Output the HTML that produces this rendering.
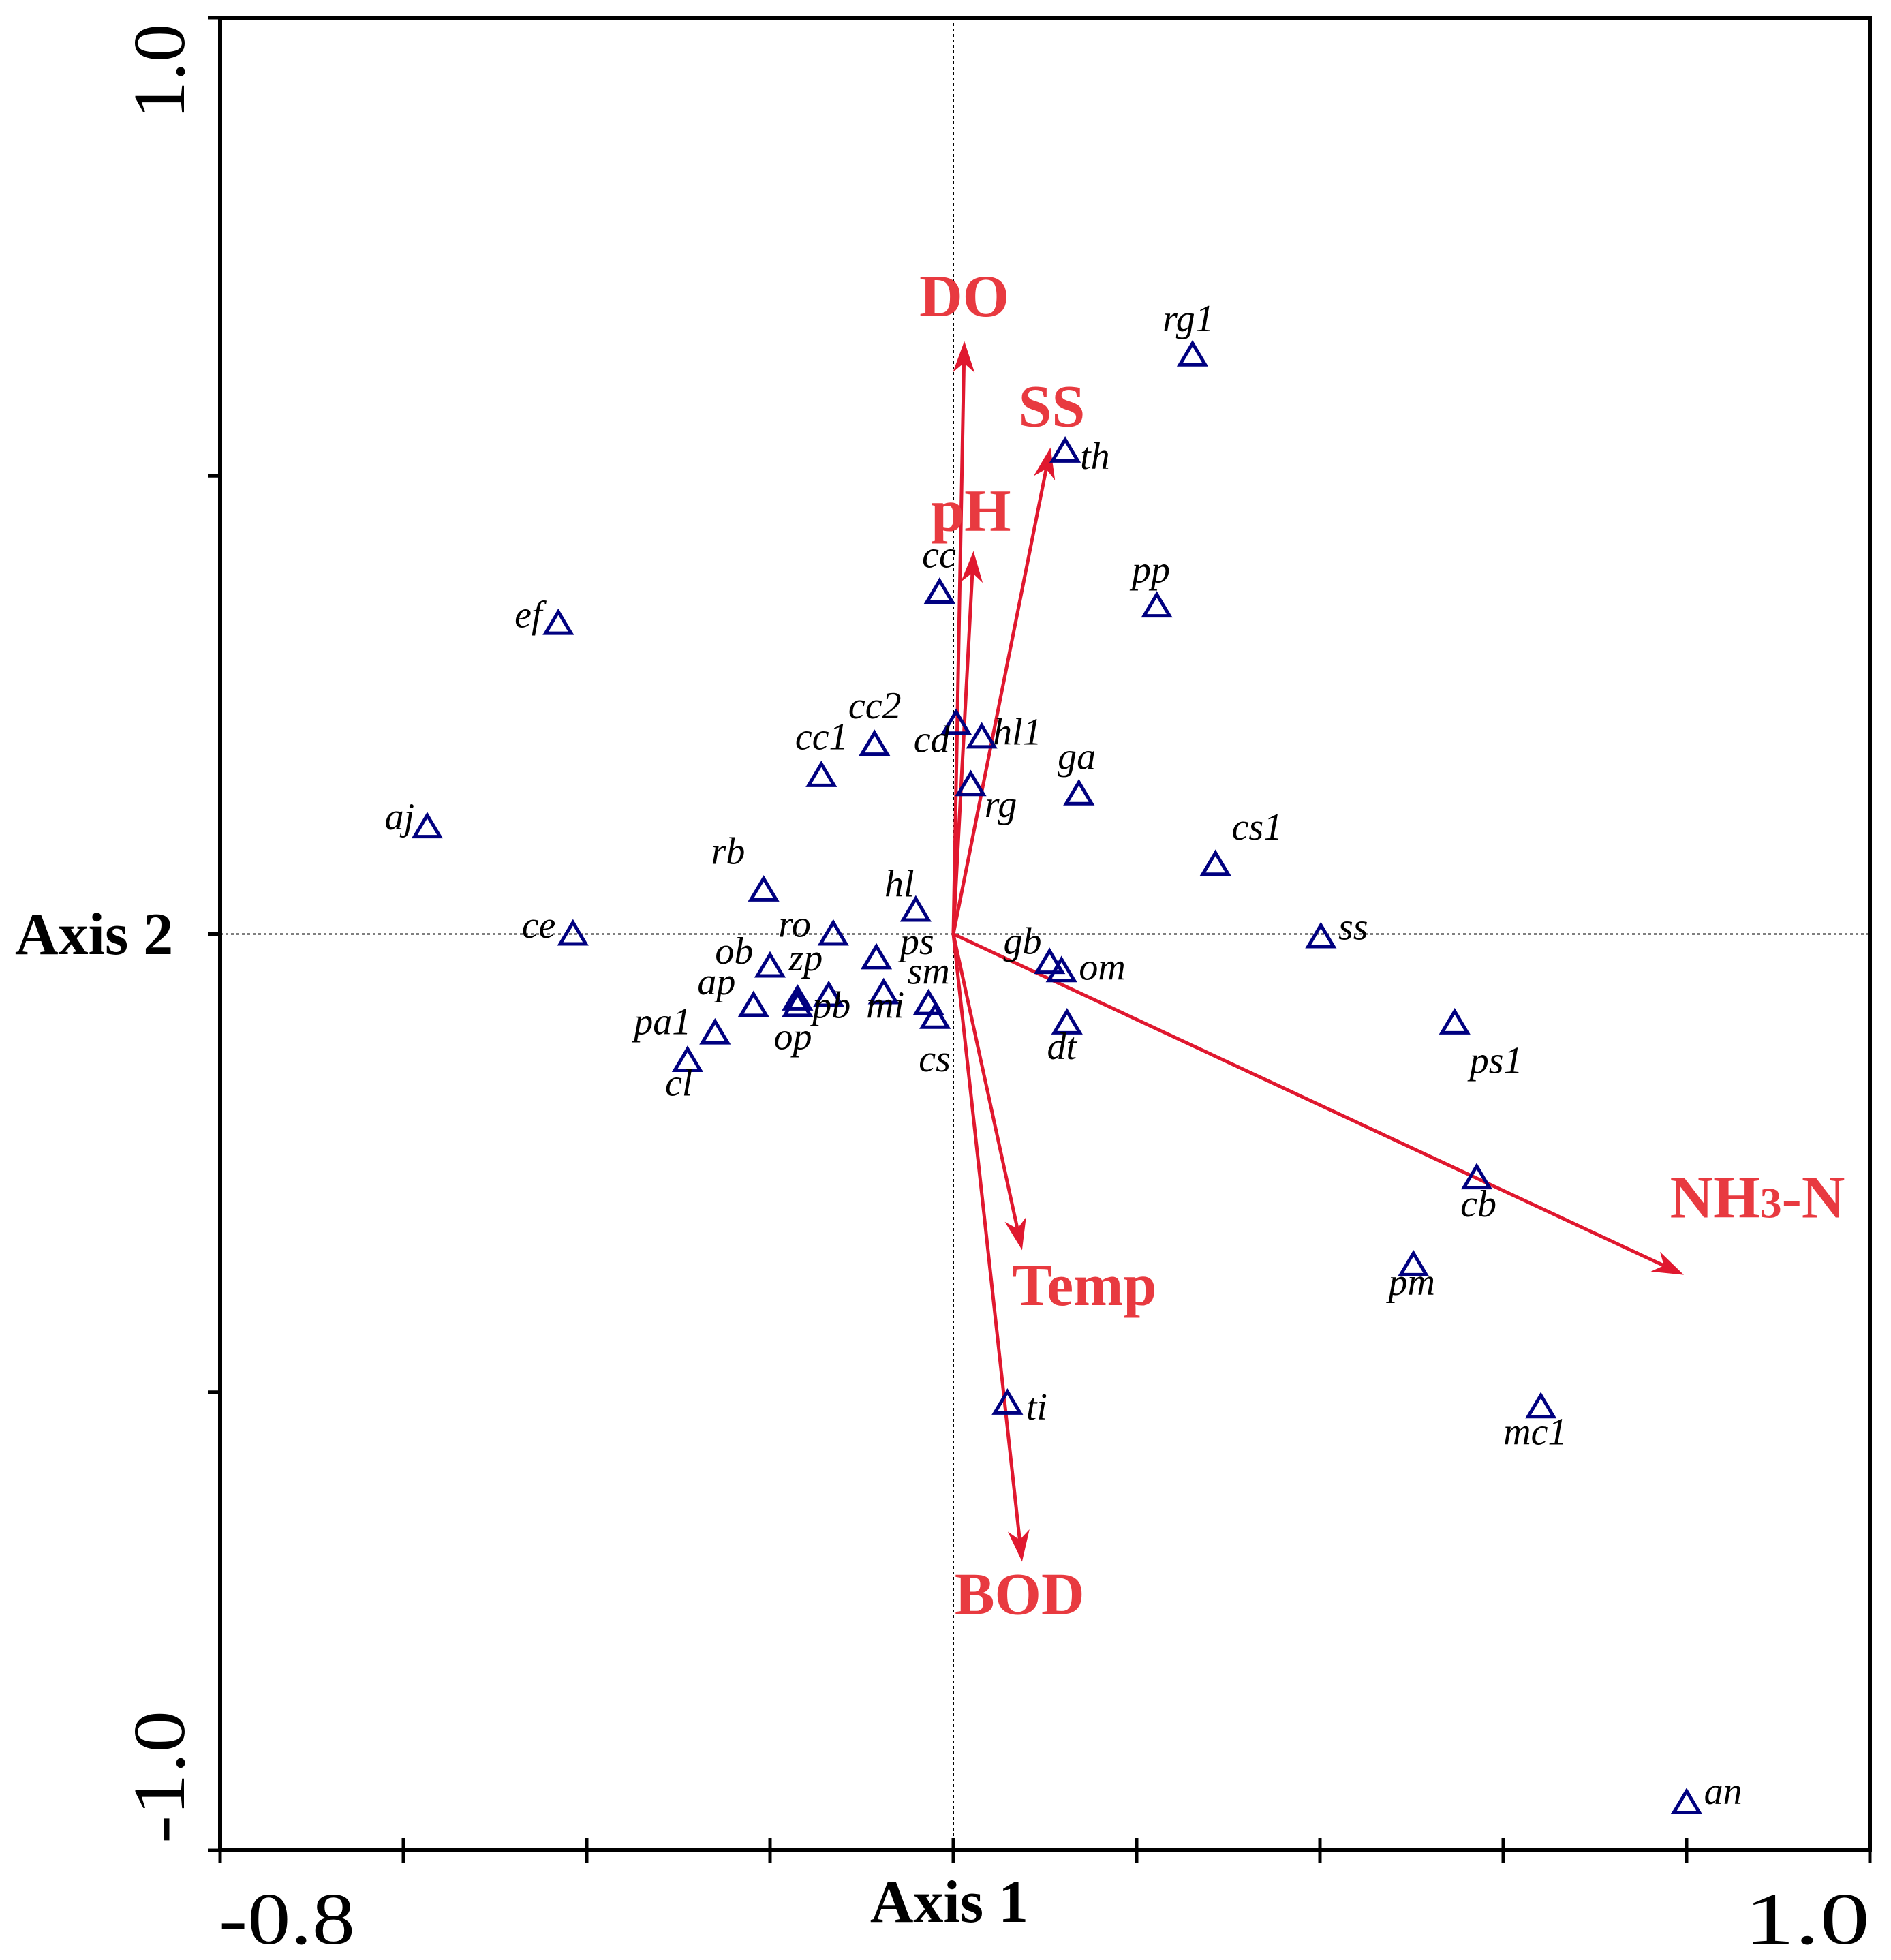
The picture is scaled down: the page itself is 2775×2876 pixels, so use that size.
<!DOCTYPE html>
<html><head><meta charset="utf-8"><style>
html,body{margin:0;padding:0;background:#fff}
svg{display:block}
</style></head><body>
<svg id="chart" xmlns="http://www.w3.org/2000/svg" width="2775" height="2876" viewBox="0 0 2775 2876">
<g id="frame"></g><g id="arrows"></g><g id="points"></g>
</svg>
<script>
const speciesNames=["rg1","th","pp","cc","ef","cc2","cc1","cd","hl1","rg","ga","aj","cs1","rb","hl","ce","ro","ss","ps","gb","om","ob","zp","pb","ap","op","mi","sm","cs","dt","ps1","pa1","cl","cb","pm","ti","mc1","an"];
const speciesX=[0.261,0.122,0.222,-0.015,-0.431,-0.086,-0.144,0.003,0.031,0.019,0.137,-0.574,0.286,-0.207,-0.041,-0.415,-0.131,0.401,-0.084,0.105,0.118,-0.200,-0.170,-0.136,-0.218,-0.170,-0.076,-0.027,-0.020,0.124,0.547,-0.260,-0.290,0.571,0.502,0.059,0.641,0.800];
const speciesY=[0.632,0.527,0.358,0.373,0.339,0.207,0.173,0.230,0.215,0.163,0.153,0.117,0.076,0.048,0.026,0,0,-0.003,-0.026,-0.031,-0.040,-0.035,-0.071,-0.067,-0.078,-0.078,-0.064,-0.076,-0.091,-0.097,-0.097,-0.108,-0.138,-0.266,-0.361,-0.512,-0.516,-0.948];
const envNames=["DO","SS","pH","Temp","BOD","NH3-N"];
const envX=[0.012,0.106,0.022,0.075,0.075,0.797];
const envY=[0.647,0.531,0.418,-0.345,-0.685,-0.372];
const xTicks=[-0.8,-0.6,-0.4,-0.2,0,0.2,0.4,0.6,0.8,1.0];
const yTicks=[-1.0,-0.5,0,0.5,1.0];
// label offsets (layout, display px)
const labOff=[[-24,-20],[12,13],[-20,-20],[-14,-21],[-35,2],[-21,-22],[-21,-22],[-34,22],[9,5],[11,25],[-17,-21],[-34,1],[13,-21],[-42,-22],[-25,-12],[-41,2],[-44,1],[14,1],[19,-4],[-37,-8],[14,6],[-44,-3],[-7,-24],[-13,17],[-45,-10],[-19,34],[-14,19],[-17,-17],[-13,42],[-16,28],[12,39],[-65,0],[-18,27],[-13,30],[-20,23],[15,12],[-30,29],[14,0]];
const envLab=[[0,-20],[1,-17],[-2,-16],[50,44],[-2,42],[59,-46]];
const S=1.832;
const L=323,R=2744,T=26,B=2715;
const sx=v=>L+(v+0.8)/1.8*(R-L);
const sy=v=>T+(1.0-v)/2.0*(B-T);
const NS="http://www.w3.org/2000/svg";
function mk(tag,attrs,parent,text){const e=document.createElementNS(NS,tag);for(const k in attrs)e.setAttribute(k,attrs[k]);if(text!==undefined)e.textContent=text;parent.appendChild(e);return e;}
const fr=document.getElementById('frame'),ar=document.getElementById('arrows'),pt=document.getElementById('points');
let z1=mk('line',{x1:sx(0),y1:T,x2:sx(0),y2:B,stroke:'#000','stroke-width':2,'stroke-dasharray':'4 4'},fr);


let z2=mk('line',{x1:L,y1:sy(0),x2:R,y2:sy(0),stroke:'#000','stroke-width':2,'stroke-dasharray':'4 4'},fr);


let box=mk('rect',{x:L,y:T,width:R-L,height:B-T,fill:'none',stroke:'#000','stroke-width':6},fr);


xTicks.forEach(t=>{let l=mk('line',{x1:sx(t),y1:B-18,x2:sx(t),y2:B+18,stroke:'#000','stroke-width':5},fr);

});
yTicks.forEach(t=>{let l=mk('line',{x1:L-18,y1:sy(t),x2:L+2,y2:sy(t),stroke:'#000','stroke-width':5},fr);

});
const serif='"Liberation Serif", serif';
let t1=mk('text',{x:sx(-0.8)-2,y:2852,'font-family':serif,'font-size':108,textLength:200,lengthAdjust:'spacingAndGlyphs'},fr,'-0.8');


let t2=mk('text',{x:R-184,y:2852,'font-family':serif,'font-size':108,textLength:184,lengthAdjust:'spacingAndGlyphs'},fr,'1.0');


let t3=mk('text',{x:0,y:0,'font-family':serif,'font-size':108,textLength:140,lengthAdjust:'spacingAndGlyphs',transform:'translate(270,175) rotate(-90)'},fr,'1.0');


let t4=mk('text',{x:0,y:0,'font-family':serif,'font-size':108,textLength:195,lengthAdjust:'spacingAndGlyphs',transform:'translate(270,2705) rotate(-90)'},fr,'-1.0');


let a1=mk('text',{x:1393,y:2820,'font-family':serif,'font-size':88,'font-weight':'bold','text-anchor':'middle'},fr,'Axis 1');


let a2=mk('text',{x:22,y:1400,'font-family':serif,'font-size':88,'font-weight':'bold'},fr,'Axis 2');


const red='#e0182f';
envNames.forEach((n,i)=>{
 const x0=sx(0),y0=sy(0),x1=sx(envX[i]),y1=sy(envY[i]);
 const ang=Math.atan2(y1-y0,x1-x0),len=46,w=16;
 const bx=x1-len*Math.cos(ang),by=y1-len*Math.sin(ang);
 let ln=mk('line',{x1:x0,y1:y0,x2:bx+(x1-bx)*0.3,y2:by+(y1-by)*0.3,stroke:red,'stroke-width':5},ar);
 
 
 const px=-Math.sin(ang)*w,py=Math.cos(ang)*w;
 let hd=mk('polygon',{points:`${x1},${y1} ${bx+px},${by+py} ${bx+(x1-bx)*0.3},${by+(y1-by)*0.3} ${bx-px},${by-py}`,fill:red},ar);
 
 
 let tx=mk('text',{x:x1+envLab[i][0]*S,y:y1+envLab[i][1]*S,'font-family':serif,'font-size':88,'font-weight':'bold',fill:'#e83a40','text-anchor':'middle'},ar);
 if(n==='NH3-N'){tx.appendChild(document.createTextNode('NH'));mk('tspan',{'font-size':64},tx,'3');tx.appendChild(document.createTextNode('-N'));}
 else tx.textContent=n;
 
 
});
speciesNames.forEach((n,i)=>{
 const x=sx(speciesX[i]),y=sy(speciesY[i]),h=17;
 let tr=mk('polygon',{points:`${x},${y-h} ${x+h*1.1},${y+h*0.85} ${x-h*1.1},${y+h*0.85}`,fill:'none',stroke:'#000080','stroke-width':5},pt);
 
 
 let lb=mk('text',{x:x+labOff[i][0]*S,y:y+labOff[i][1]*S+2,'font-family':serif,'font-size':56,'font-style':'italic',fill:'#000'},pt,n);
 
 
});
</script>
</body></html>
